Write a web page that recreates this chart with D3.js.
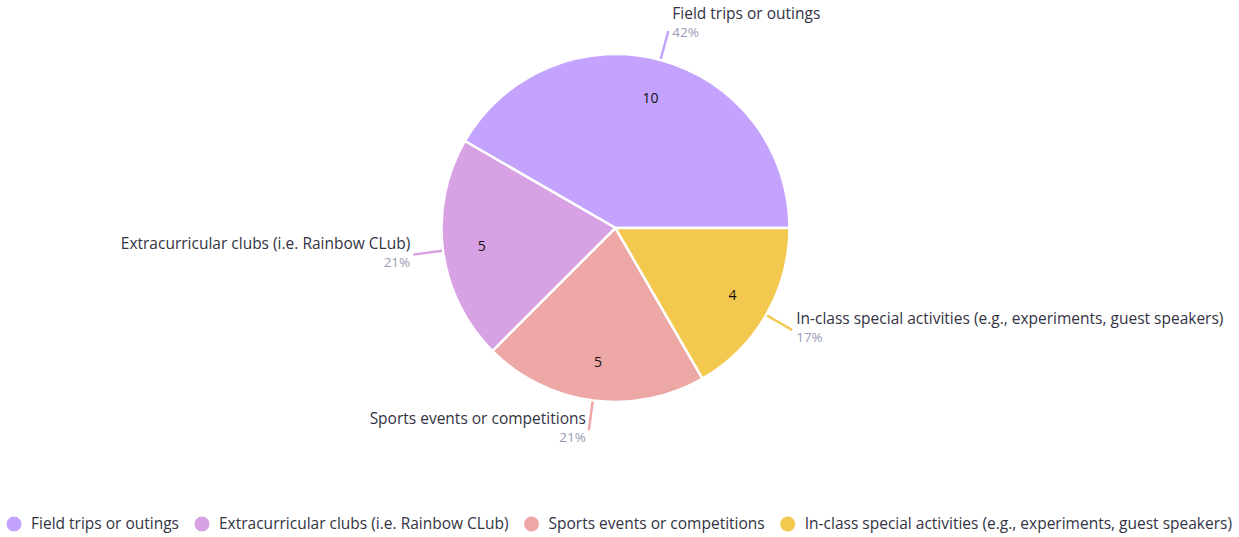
<!DOCTYPE html>
<html><head><meta charset="utf-8">
<script src="https://cdn.jsdelivr.net/npm/d3@7"></script>
<style>
html,body{margin:0;padding:0;background:#fff;}
svg{display:block;font-family:"Open Sans","Noto Sans",sans-serif;}
</style></head>
<body>
<svg id="chart" width="1239" height="537"></svg>
<script>
const categories = ["Field trips or outings","Extracurricular clubs (i.e. Rainbow CLub)","Sports events or competitions","In-class special activities (e.g., experiments, guest speakers)"];
const values = [10,5,5,4];
const percentLabels = ["42%","21%","21%","17%"];
const colors = ["#c4a3fe","#d8a1e3","#eda7a5","#f2c84f"];

const svg = d3.select("#chart");
const cx = 615.5, cy = 228, R = 174;
const data = categories.map((c,i)=>({cat:c,val:values[i],pct:percentLabels[i],color:colors[i]}));
const pie = d3.pie().value(d=>d.val).sort(null).startAngle(Math.PI/2).endAngle(Math.PI/2-2*Math.PI);
const arcs = pie(data);
const arc = d3.arc().innerRadius(0).outerRadius(R);
const g = svg.append("g").attr("transform",`translate(${cx},${cy})`);
g.selectAll("path.slice").data(arcs).join("path").attr("class","slice")
  .attr("d",arc).attr("fill",d=>d.data.color).attr("stroke","#fff").attr("stroke-width",2.5).attr("stroke-linejoin","round");

const valArc = d3.arc().innerRadius(135).outerRadius(135);
g.selectAll("text.val").data(arcs).join("text").attr("class","val")
  .attr("transform",d=>`translate(${valArc.centroid(d)})`)
  .attr("text-anchor","middle").attr("dy","0.35em")
  .attr("font-size",14).attr("fill","#111").text(d=>d.data.val);

// leader lines
const lineArcIn = d3.arc().innerRadius(R+1).outerRadius(R+1);
const lineArcOut = d3.arc().innerRadius(R+30).outerRadius(R+30);
g.selectAll("line.lead").data(arcs).join("line").attr("class","lead")
  .attr("x1",d=>lineArcIn.centroid(d)[0]).attr("y1",d=>lineArcIn.centroid(d)[1])
  .attr("x2",d=>lineArcOut.centroid(d)[0]).attr("y2",d=>lineArcOut.centroid(d)[1])
  .attr("stroke",d=>d.data.color).attr("stroke-width",2.5);

arcs.forEach(d=>{
  const [x,y] = lineArcOut.centroid(d);
  const right = x > 0;
  const top = y < -R*0.9;
  const tx = right ? x+4 : x-3;
  const ny = top ? y-12 : y-6;
  const lab = g.append("g");
  lab.append("text").attr("x",tx).attr("y",ny).attr("text-anchor",right?"start":"end")
    .attr("font-size",15.5).attr("fill","#333344").text(d.data.cat);
  lab.append("text").attr("x",tx).attr("y",ny+18).attr("text-anchor",right?"start":"end")
    .attr("font-size",13.5).attr("fill","#9a9ab4").text(d.data.pct);
});

// legend
const leg = svg.append("g");
let xpos = 0;
data.forEach(d=>{
  const it = leg.append("g").attr("transform",`translate(${xpos},0)`);
  it.append("circle").attr("cx",7).attr("cy",0).attr("r",7.5).attr("fill",d.color);
  const t = it.append("text").attr("x",24).attr("y",0).attr("dy","0.35em").attr("font-size",15.5).attr("fill","#333344").text(d.cat);
  const w = t.node().getComputedTextLength();
  xpos += 24 + w + 16;
});
const totalW = xpos - 16;
leg.attr("transform",`translate(${(1239-totalW)/2},524)`);
</script>
</body></html>
